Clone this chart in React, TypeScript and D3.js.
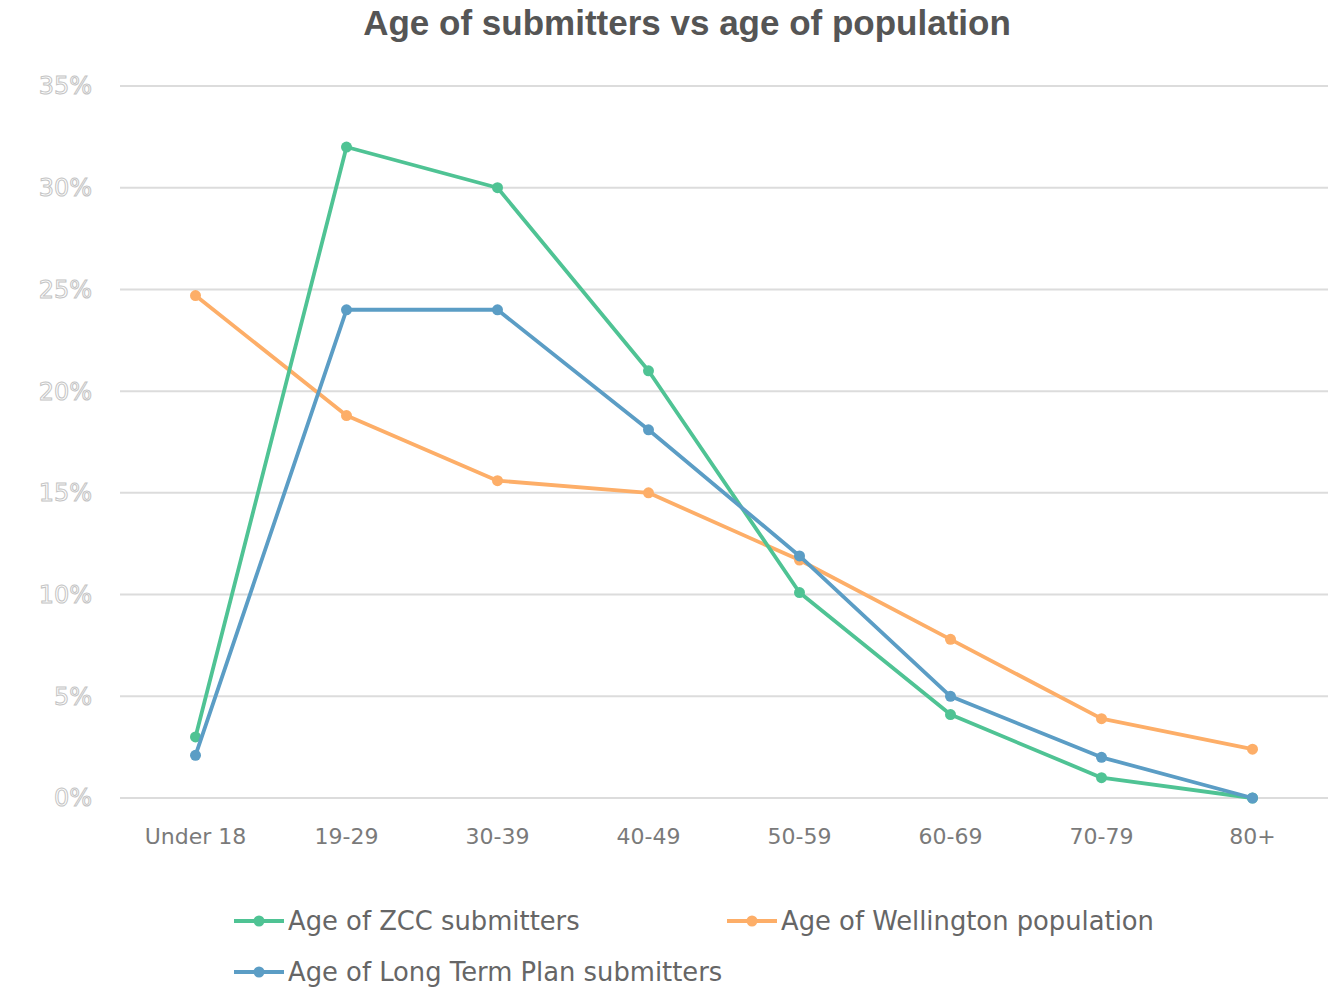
import React from "react";
import * as d3 from "d3";

const categories = ["Under 18", "19-29", "30-39", "40-49", "50-59", "60-69", "70-79", "80+"];
const zccValues = [3.0, 32.0, 30.0, 21.0, 10.1, 4.1, 1.0, 0.0];
const wellingtonValues = [24.7, 18.8, 15.6, 15.0, 11.7, 7.8, 3.9, 2.4];
const ltpValues = [2.1, 24.0, 24.0, 18.1, 11.9, 5.0, 2.0, 0.0];
const yTicks = [0, 5, 10, 15, 20, 25, 30, 35];
const seriesNames = ["Age of ZCC submitters", "Age of Wellington population", "Age of Long Term Plan submitters"];
const seriesColors = ["#4fc394", "#fdae68", "#5b9dc5"];

const W = 1334;
const H = 1001;
const plotLeft = 120;
const plotRight = 1328;
const plotTop = 86;
const plotBottom = 798;

export default function App() {
  const x = d3.scaleBand<string>().domain(categories).range([plotLeft, plotRight]);
  const y = d3.scaleLinear().domain([0, 35]).range([plotBottom, plotTop]);
  const cx = (c: string) => (x(c) ?? 0) + x.bandwidth() / 2;
  const line = d3
    .line<number>()
    .x((_, i) => cx(categories[i]))
    .y((d) => y(d));
  const series = [zccValues, wellingtonValues, ltpValues];
  // draw order: orange, green, blue on top
  const order = [1, 0, 2];
  const legendPos = [
    { x: 234, y: 921 },
    { x: 727, y: 921 },
    { x: 234, y: 972 },
  ];
  const font = "'DejaVu Sans', sans-serif";

  return (
    <svg
      width={W}
      height={H}
      style={{ position: "absolute", left: 0, top: 0, background: "#fff" }}
      fontFamily={font}
    >
      <text
        x={687}
        y={35}
        textAnchor="middle"
        fontSize={35}
        fontWeight={700}
        fill="#555"
        fontFamily="'Liberation Sans', Arial, sans-serif"
      >
        Age of submitters vs age of population
      </text>
      {yTicks.map((t) => (
        <g key={t}>
          <line x1={plotLeft} x2={plotRight} y1={y(t)} y2={y(t)} stroke="#dcdcdc" strokeWidth={2} />
          <text
            x={92}
            y={y(t)}
            dy="0.35em"
            textAnchor="end"
            fontSize={24}
            fill="#fff"
            stroke="#c4c4c4"
            strokeWidth={1}
          >
            {t}%
          </text>
        </g>
      ))}
      {categories.map((c) => (
        <text key={c} x={cx(c)} y={836} dy="0.35em" textAnchor="middle" fontSize={22} fill="#7a7a7a">
          {c}
        </text>
      ))}
      {order.map((si) => (
        <g key={si}>
          <path d={line(series[si]) ?? ""} fill="none" stroke={seriesColors[si]} strokeWidth={3.8} strokeLinejoin="round" />
          {series[si].map((v, i) => (
            <circle key={i} cx={cx(categories[i])} cy={y(v)} r={5.5} fill={seriesColors[si]} />
          ))}
        </g>
      ))}
      {seriesNames.map((n, i) => (
        <g key={n} transform={`translate(${legendPos[i].x},${legendPos[i].y})`}>
          <line x1={0} x2={50} y1={0} y2={0} stroke={seriesColors[i]} strokeWidth={3.8} />
          <circle cx={25} cy={0} r={5.5} fill={seriesColors[i]} />
          <text x={54} y={0} dy="0.35em" fontSize={25.8} fill="#666">
            {n}
          </text>
        </g>
      ))}
    </svg>
  );
}
